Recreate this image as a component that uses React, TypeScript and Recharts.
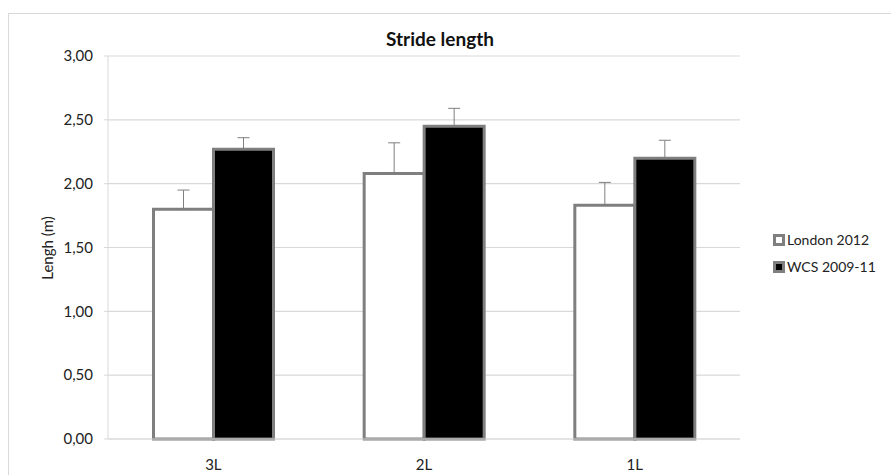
import React from "react";
import { BarChart, Bar, XAxis, YAxis, CartesianGrid, ErrorBar } from "recharts";

const categories = ["3L", "2L", "1L"];
const london = [1.8, 2.08, 1.83];
const londonErr = [0.15, 0.24, 0.18];
const wcs = [2.27, 2.45, 2.2];
const wcsErr = [0.09, 0.14, 0.14];
const yTicks = [0, 0.5, 1, 1.5, 2, 2.5, 3];

const data = categories.map((c, i) => ({
  cat: c,
  london: london[i],
  londonErr: [0, londonErr[i]],
  wcs: wcs[i],
  wcsErr: [0, wcsErr[i]],
}));

const FONT = "Lato, 'Open Sans', sans-serif";

const legendItems = [
  { label: "London 2012", fill: "#ffffff" },
  { label: "WCS 2009-11", fill: "#000000" },
];

function LegendBox() {
  return (
    <div style={{ position: "absolute", left: 773, top: 226, fontFamily: FONT, fontSize: 14, color: "#222" }}>
      {legendItems.map((it) => (
        <div key={it.label} style={{ display: "flex", alignItems: "center", height: 27 }}>
          <span
            style={{
              display: "inline-block",
              width: 6,
              height: 6,
              background: it.fill,
              border: "3px solid #7f7f7f",
              marginRight: 2,
            }}
          />
          {it.label}
        </div>
      ))}
    </div>
  );
}

export default function App() {
  return (
    <div>
      <style>{`body{margin:0;overflow:hidden;background:#fff}`}</style>
      <div
        style={{
          position: "absolute",
          left: 8,
          top: 13,
          width: 890,
          height: 470,
          border: "1px solid #d9d9d9",
          boxSizing: "border-box",
        }}
      />
      <div
        style={{
          position: "absolute",
          left: 8,
          top: 27,
          width: 864,
          textAlign: "center",
          fontFamily: FONT,
          fontWeight: 700,
          fontSize: 19,
          color: "#111",
        }}
      >
        Stride length
      </div>
      {/* y-axis title */}
      <div
        style={{
          position: "absolute",
          left: 47,
          top: 248,
          transform: "translate(-50%, -50%) rotate(-90deg)",
          fontFamily: FONT,
          fontSize: 15,
          color: "#222",
          whiteSpace: "nowrap",
        }}
      >
        Lengh (m)
      </div>
      <LegendBox />
      <div style={{ position: "absolute", left: 8, top: 13 }}>
        <BarChart
          width={883}
          height={470}
          data={data}
          margin={{ top: 43, right: 151, left: 0, bottom: 0 }}
          barCategoryGap="21.6%"
          barGap={0}
        >
          <CartesianGrid vertical={false} stroke="#d9d9d9" strokeWidth={1.2} />
          <XAxis
            dataKey="cat"
            height={44}
            stroke="#d9d9d9"
            tickLine={false}
            tick={{ fill: "#222", fontSize: 15, fontFamily: FONT }}
            tickMargin={14}
          />
          <YAxis
            width={100}
            domain={[0, 3]}
            ticks={yTicks}
            stroke="#d9d9d9"
            tickSize={4}
            tickMargin={11}
            tickFormatter={(v: number) => v.toFixed(2).replace(".", ",")}
            tick={{ fill: "#222", fontSize: 15, fontFamily: FONT }}
          />
          <Bar dataKey="london" name="London 2012" fill="#ffffff" stroke="#7f7f7f" strokeWidth={3} isAnimationActive={false}>
            <ErrorBar dataKey="londonErr" width={6} stroke="#7f7f7f" strokeWidth={1} direction="y" />
          </Bar>
          <Bar dataKey="wcs" name="WCS 2009-11" fill="#000000" stroke="#7f7f7f" strokeWidth={3} isAnimationActive={false}>
            <ErrorBar dataKey="wcsErr" width={6} stroke="#7f7f7f" strokeWidth={1} direction="y" />
          </Bar>
        </BarChart>
      </div>
    </div>
  );
}
